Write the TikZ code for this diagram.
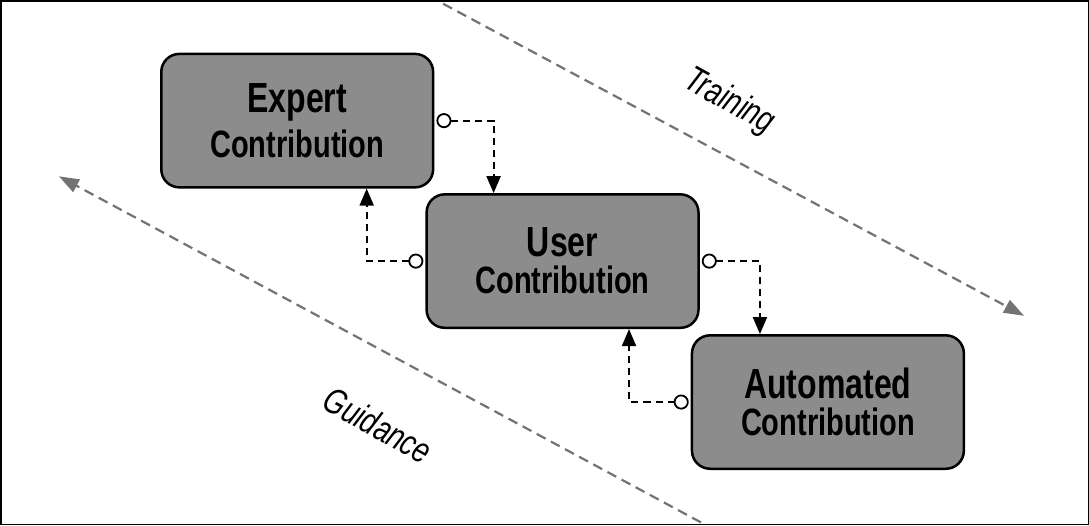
\documentclass[tikz,border=0pt]{standalone}
\usepackage{fontspec}
\setmainfont{Liberation Sans}[FakeStretch=0.76]
\usetikzlibrary{arrows.meta,calc}
\begin{document}
\begin{tikzpicture}[x=1pt,y=-1pt,
  box/.style={draw=black,line width=2.5pt,fill=black!45,rounded corners=18pt,minimum width=271pt,minimum height=133pt,align=center,inner sep=0pt,font=\bfseries},
  conn/.style={line width=2pt,dash pattern=on 7pt off 5pt,{Circle[open,fill=white,length=15pt,width=15pt,line width=1.8pt,sep=2pt]}-{Triangle[length=17pt,width=14pt]}},
  guide/.style={draw=black!55,line width=2.2pt,dash pattern=on 10pt off 6pt,-{Triangle[length=20pt,width=14pt]}},
  lab/.style={font=\fontsize{36}{36}\selectfont\itshape,text=black}]
\draw[line width=1.5pt] (2,2) rectangle (1086,524);
\node[box] (e) at (297.5,121.5) {\fontsize{42}{42}\selectfont Expert\\[8pt]\fontsize{38}{38}\selectfont Contribution};
\node[box] (u) at (562,261.5) {\fontsize{42}{42}\selectfont User\\[8pt]\fontsize{38}{38}\selectfont Contribution};
\node[box] (a) at (826.5,402) {\fontsize{42}{42}\selectfont Automated\\[8pt]\fontsize{38}{38}\selectfont Contribution};
\coordinate (ts) at (443,5); \coordinate (te) at (1022,316);
\coordinate (gs) at (700,522); \coordinate (ge) at (60,177);
\draw[guide] (ts) -- (te);
\draw[guide] (gs) -- (ge);
\node[lab,rotate=-29] (tl) at (728,103) {Training};
\node[lab,rotate=-29] (gl) at (378,425) {Guidance};
\draw[conn] (e.east) -| ($(u.north west)+(68,0)$);
\draw[conn] (u.west) -| ($(e.south west)+(206,0)$);
\draw[conn] (u.east) -| ($(a.north west)+(69,0)$);
\draw[conn] (a.west) -| ($(u.south west)+(203,0)$);
\end{tikzpicture}
\end{document}
